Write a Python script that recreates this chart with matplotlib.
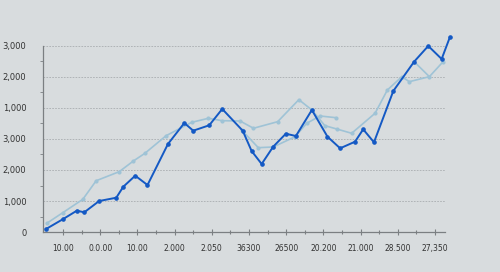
#Line chart with two blue series

import numpy as np
import matplotlib.pyplot as plt

#data
darkX = [0.54, 0.99, 1.37, 1.57, 1.97, 2.43, 2.62, 2.94, 3.27, 3.82, 4.26, 4.50, 4.93, 5.28,
         5.83, 6.07, 6.34, 6.65, 6.99, 7.26, 7.69, 8.11, 8.45, 8.85, 9.07, 9.36, 9.88, 10.44,
         10.82, 11.18, 11.40]
darkY = [48, 205, 344, 318, 500, 553, 731, 908, 758, 1419, 1758, 1634, 1721, 1984,
         1634, 1306, 1097, 1376, 1585, 1548, 1968, 1537, 1350, 1456, 1656, 1447, 2274, 2747,
         3000, 2790, 3140]

lightX = [0.56, 0.99, 1.53, 1.89, 2.51, 2.89, 3.20, 3.77, 4.46, 4.91, 5.27, 5.76, 6.12,
          6.77, 7.34, 7.69, 8.04, 8.36, 8.76, 9.39, 9.72, 10.11, 10.31, 10.85, 11.22]
lightY = [140, 311, 527, 827, 973, 1145, 1269, 1553, 1769, 1834, 1795, 1790, 1673,
          1779, 2134, 1968, 1715, 1661, 1592, 1915, 2290, 2505, 2424, 2505, 2747]

light2X = [5.80, 6.25, 6.65, 7.24, 7.55, 7.91, 8.33]
light2Y = [1645, 1360, 1371, 1537, 1753, 1871, 1844]

light3X = [10.44, 10.85]
light3Y = [2747, 2505]

xTickLabels = ['10.00', '0.0.00', '10.00', '2.000', '2.050', '36300',
               '26500', '20.200', '21.000', '28.500', '27,350']
yTickValues = [0, 500, 1000, 1500, 2000, 2500, 3000]
yTickLabels = ['0', '1,000', '2,000', '3,000', '1,000', '2,000', '3,000']

bg = '#d8dcde'
darkBlue = '#1459c4'
lightBlue = '#9fc3d6'
axisGray = '#7b7f82'

fig = plt.figure(figsize=(5, 2.72), dpi=100, facecolor=bg)
ax = fig.add_axes([0.086, 0.147, 0.804, 0.684])
ax.set_facecolor(bg)

xmin, xmax = 0.46, 11.27
ax.set_xlim(xmin, xmax)
ax.set_ylim(0, 3000)

#dotted grid lines
for v in yTickValues[1:]:
    ax.axhline(v, color='#a9adb0', lw=0.6, ls=(0, (2, 1.5)), zorder=1)

#the light lines sit behind the dark one
ax.plot(lightX, lightY, color=lightBlue, lw=1.2, marker='o', ms=2.0, clip_on=False, zorder=2)
ax.plot(light2X, light2Y, color=lightBlue, lw=1.2, marker='o', ms=2.0, clip_on=False, zorder=2)
ax.plot(light3X, light3Y, color=lightBlue, lw=1.2, clip_on=False, zorder=2)
ax.plot(darkX, darkY, color=darkBlue, lw=1.4, marker='o', ms=2.3, clip_on=False, zorder=3)

#axes look
for s in ['top', 'right']:
    ax.spines[s].set_visible(False)
ax.spines['left'].set_color(axisGray)
ax.spines['bottom'].set_color(axisGray)
ax.spines['left'].set_linewidth(0.9)
ax.spines['bottom'].set_linewidth(0.9)

ax.set_xticks(np.arange(1, 12))
ax.set_xticklabels(xTickLabels)
ax.set_xticks(np.arange(1.5, 11.5, 1), minor=True)
ax.tick_params(axis='x', which='major', direction='inout', length=5, width=0.8,
               color=axisGray, labelsize=5.5, pad=6, labelcolor='#333333')
ax.tick_params(axis='x', which='minor', direction='inout', length=3, width=0.8, color=axisGray)

ax.set_yticks(yTickValues)
ax.set_yticklabels(yTickLabels)
ax.set_yticks(np.arange(250, 3000, 500), minor=True)
ax.tick_params(axis='y', which='major', length=0, labelsize=6, pad=12, labelcolor='#333333')
ax.tick_params(axis='y', which='minor', direction='out', length=2, width=0.6, color=axisGray)

plt.savefig('out.png', dpi=100, facecolor=bg)
